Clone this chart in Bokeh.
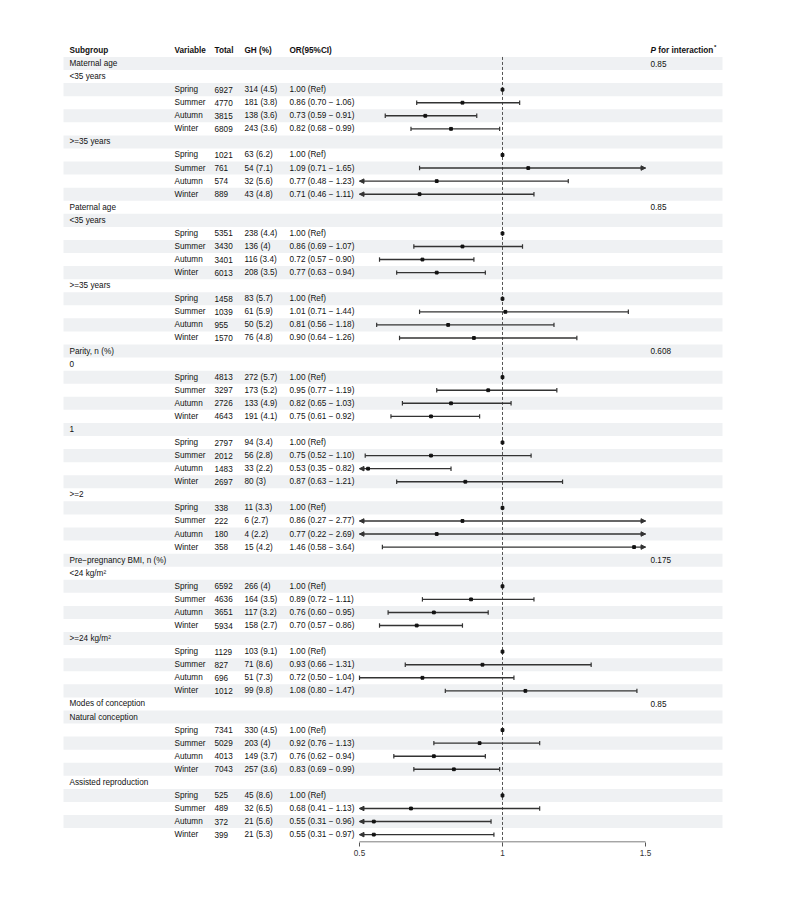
from bokeh.plotting import figure
from bokeh.models import Range1d, FixedTicker, ColumnDataSource, Arrow, NormalHead
from bokeh.embed import file_html
from bokeh.resources import INLINE
from bokeh.core.properties import value

# ---------------- data ----------------
headers = ["Subgroup", "Variable", "Total", "GH (%)", "OR(95%CI)"]
groups = ["Maternal age", "Paternal age", "Parity, n (%)",
          "Pre\u2212pregnancy BMI, n (%)", "Modes of conception"]
p_interaction = ["0.85", "0.85", "0.608", "0.175", "0.85"]
subgroups = [["<35 years", ">=35 years"],
             ["<35 years", ">=35 years"],
             ["0", "1", ">=2"],
             ["<24 kg/m\u00b2", ">=24 kg/m\u00b2"],
             ["Natural conception", "Assisted reproduction"]]
seasons = ["Spring", "Summer", "Autumn", "Winter"]

totals = [6927, 4770, 3815, 6809, 1021, 761, 574, 889,
          5351, 3430, 3401, 6013, 1458, 1039, 955, 1570,
          4813, 3297, 2726, 4643, 2797, 2012, 1483, 2697, 338, 222, 180, 358,
          6592, 4636, 3651, 5934, 1129, 827, 696, 1012,
          7341, 5029, 4013, 7043, 525, 489, 372, 399]
gh_cases = [314, 181, 138, 243, 63, 54, 32, 43,
            238, 136, 116, 208, 83, 61, 50, 76,
            272, 173, 133, 191, 94, 56, 33, 80, 11, 6, 4, 15,
            266, 164, 117, 158, 103, 71, 51, 99,
            330, 203, 149, 257, 45, 32, 21, 21]
gh_pct = [4.5, 3.8, 3.6, 3.6, 6.2, 7.1, 5.6, 4.8,
          4.4, 4, 3.4, 3.5, 5.7, 5.9, 5.2, 4.8,
          5.7, 5.2, 4.9, 4.1, 3.4, 2.8, 2.2, 3, 3.3, 2.7, 2.2, 4.2,
          4, 3.5, 3.2, 2.7, 9.1, 8.6, 7.3, 9.8,
          4.5, 4, 3.7, 3.6, 8.6, 6.5, 5.6, 5.3]
or_est = [1.00, 0.86, 0.73, 0.82, 1.00, 1.09, 0.77, 0.71,
          1.00, 0.86, 0.72, 0.77, 1.00, 1.01, 0.81, 0.90,
          1.00, 0.95, 0.82, 0.75, 1.00, 0.75, 0.53, 0.87, 1.00, 0.86, 0.77, 1.46,
          1.00, 0.89, 0.76, 0.70, 1.00, 0.93, 0.72, 1.08,
          1.00, 0.92, 0.76, 0.83, 1.00, 0.68, 0.55, 0.55]
or_low = [None, 0.70, 0.59, 0.68, None, 0.71, 0.48, 0.46,
          None, 0.69, 0.57, 0.63, None, 0.71, 0.56, 0.64,
          None, 0.77, 0.65, 0.61, None, 0.52, 0.35, 0.63, None, 0.27, 0.22, 0.58,
          None, 0.72, 0.60, 0.57, None, 0.66, 0.50, 0.80,
          None, 0.76, 0.62, 0.69, None, 0.41, 0.31, 0.31]
or_high = [None, 1.06, 0.91, 0.99, None, 1.65, 1.23, 1.11,
           None, 1.07, 0.90, 0.94, None, 1.44, 1.18, 1.26,
           None, 1.19, 1.03, 0.92, None, 1.10, 0.82, 1.21, None, 2.77, 2.69, 3.64,
           None, 1.11, 0.95, 0.86, None, 1.31, 1.04, 1.47,
           None, 1.13, 0.94, 0.99, None, 1.13, 0.96, 0.97]
x_ticks = [0.5, 1, 1.5]
x_tick_labels = ["0.5", "1", "1.5"]
ref_value = 1

# ---------------- layout constants ----------------
FONT = "Liberation Sans"
FS = "8.2px"
TXT = "#111111"
STRIPE = "#eff1f3"
LINE = "#333333"
ORIGIN = 0                         # page px of figure's top-left corner
W, H = 792, 872
PX_LO, PX_HI = 359.0, 645.0        # page px of axis limits
ROW0_PY, ROW_H = 49.93, 13.07      # page y of header row, row pitch
FRAME_BOTTOM_PY = 842.0


def px2x(px):
    return x_ticks[0] + (px - PX_LO) / (PX_HI - PX_LO) * (x_ticks[-1] - x_ticks[0])


def py2y(py):
    return (py - ROW0_PY) / ROW_H


col_px = {"sub": 69, "var": 174, "tot": 214, "gh": 244, "or": 289, "p": 650}
col_x = {k: px2x(v) for k, v in col_px.items()}
lo_lim, hi_lim = x_ticks[0], x_ticks[-1]

# ---------------- build rows ----------------
grp_y, grp_lab, p_y, p_lab = [], [], [], []
sub_y, sub_lab = [], []
s_y, s_var, s_tot, s_gh, s_or = [], [], [], [], []
est_y, est_x = [], []
seg = dict(x0=[], x1=[], y=[])
caps = dict(x=[], y=[])
arrows = dict(xs=[], xe=[], y=[])

row = 0
k = 0
for gi, g in enumerate(groups):
    row += 1
    grp_y.append(row); grp_lab.append(g)
    p_y.append(row); p_lab.append(p_interaction[gi])
    for sg in subgroups[gi]:
        row += 1
        sub_y.append(row); sub_lab.append(sg)
        for s in seasons:
            row += 1
            s_y.append(row); s_var.append(s)
            s_tot.append(str(totals[k]))
            s_gh.append(f"{gh_cases[k]} ({gh_pct[k]:g})")
            lo, hi, e = or_low[k], or_high[k], or_est[k]
            if lo is None:
                s_or.append(f"{e:.2f} (Ref)")
                lo = hi = e
            else:
                s_or.append(f"{e:.2f} ({lo:.2f} \u2212 {hi:.2f})")
            est_y.append(row); est_x.append(e)
            clo, chi = max(lo, lo_lim), min(hi, hi_lim)
            seg["x0"].append(clo); seg["x1"].append(chi); seg["y"].append(row)
            if lo < lo_lim:
                arrows["xs"].append(lo_lim + 0.03); arrows["xe"].append(lo_lim); arrows["y"].append(row)
            else:
                caps["x"].append(lo); caps["y"].append(row)
            if hi > hi_lim:
                arrows["xs"].append(hi_lim - 0.03); arrows["xe"].append(hi_lim); arrows["y"].append(row)
            else:
                caps["x"].append(hi); caps["y"].append(row)
            k += 1
n_rows = row

# ---------------- figure ----------------
x_start, x_end = px2x(ORIGIN), px2x(ORIGIN + W)
y_bottom, y_top = py2y(FRAME_BOTTOM_PY), py2y(ORIGIN)

p = figure(width=W, height=H, x_range=Range1d(x_start, x_end),
           y_range=Range1d(y_bottom, y_top), output_backend="svg",
           toolbar_location=None, y_axis_location=None, x_axis_location="below",
           min_border_left=0, min_border_right=0, min_border_top=0,
           min_border_bottom=H - int(FRAME_BOTTOM_PY - ORIGIN))
p.outline_line_color = None
p.grid.visible = False
p.background_fill_color = "white"
p.border_fill_color = "white"

# stripes
stripe_rows = [r for r in range(1, n_rows + 1) if r % 2 == 1]
p.hbar(y=stripe_rows, height=1, left=px2x(63), right=px2x(722),
       fill_color=STRIPE, line_color=None)

# reference dashed line
p.segment(x0=[ref_value], x1=[ref_value], y0=[0.5], y1=[y_bottom],
          line_color="#555555", line_width=1, line_dash="3 2")

# axis line over tick range
p.segment(x0=[x_ticks[0]], x1=[x_ticks[-1]], y0=[y_bottom - 0.04], y1=[y_bottom - 0.04],
          line_color="#555555", line_width=1)

# CI segments, caps, arrows, points
p.segment(x0=seg["x0"], x1=seg["x1"], y0=seg["y"], y1=seg["y"],
          line_color=LINE, line_width=1.4)
cap_h = 0.17
p.segment(x0=caps["x"], x1=caps["x"], y0=[y - cap_h for y in caps["y"]],
          y1=[y + cap_h for y in caps["y"]], line_color=LINE, line_width=1.2)
asrc = ColumnDataSource(dict(xs=arrows["xs"], xe=arrows["xe"], y=arrows["y"]))
p.add_layout(Arrow(end=NormalHead(size=4.5, fill_color=LINE, line_color=LINE, line_width=1),
                   x_start="xs", x_end="xe", y_start="y", y_end="y",
                   source=asrc, line_alpha=0))
p.scatter(x=est_x, y=est_y, marker="square", size=2.8, fill_color="#111111",
          line_color="#111111")

# ---------------- text ----------------
def txt(xs, ys, texts, style="normal", size=FS, color=TXT):
    p.text(x=xs, y=ys, text=texts, text_font=value(FONT), text_font_size=size,
           text_font_style=style, text_color=color, text_align="left",
           text_baseline="middle")

hx = [col_x["sub"], col_x["var"], col_x["tot"], col_x["gh"], col_x["or"]]
txt(hx, [0] * len(headers), headers, style="bold")
txt([col_x["p"]], [0], ["P"], style="bold italic")
txt([px2x(col_px["p"] + 7.7)], [0], ["for interaction"], style="bold")
txt([px2x(col_px["p"] + 63.5)], [-0.25], ["*"], style="bold", size="6px")

txt([col_x["sub"]] * len(grp_y), grp_y, grp_lab)
txt([col_x["p"]] * len(p_y), p_y, p_lab)
txt([col_x["sub"]] * len(sub_y), sub_y, sub_lab)
txt([col_x["var"]] * len(s_y), s_y, s_var)
txt([col_x["tot"]] * len(s_y), s_y, s_tot)
txt([col_x["gh"]] * len(s_y), s_y, s_gh)
txt([col_x["or"]] * len(s_y), s_y, s_or)

# ---------------- axis ----------------
ax = p.xaxis[0]
ax.ticker = FixedTicker(ticks=x_ticks)
ax.major_label_overrides = {t: l for t, l in zip(x_ticks, x_tick_labels)}
ax.axis_line_color = None
ax.minor_tick_line_color = None
ax.major_tick_line_color = "#555555"
ax.major_tick_in = 0
ax.major_tick_out = 4
ax.major_label_standoff = 3
ax.major_label_text_font = FONT
ax.major_label_text_font_size = FS
ax.major_label_text_color = "#333333"

open("out.html", "w").write(file_html(p, INLINE))
